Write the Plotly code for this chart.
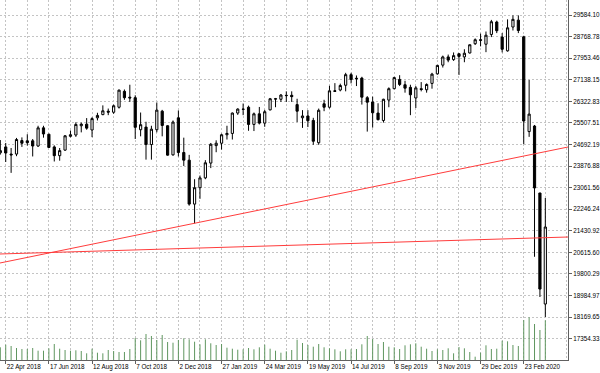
import pandas as pd
import plotly.graph_objects as go

# ---------------- data ----------------
weeks = pd.date_range("2018-04-15", periods=102, freq="7D")  # weekly bars (week start)

opens = [24380, 24600, 24330, 24330, 24840, 24830, 24830, 24635, 25320, 25080,
         24600, 24270, 24480, 25000, 25050, 25400, 25460, 25240, 25700, 25820,
         25950, 25910, 26100, 26700, 26480, 26460, 25250, 25350, 24690, 25250,
         25950, 25400, 24300, 25700, 24390, 24100, 22440, 23060, 23430, 23990,
         24650, 24740, 25060, 25110, 25880, 26030, 26100, 25450, 25850, 25500,
         26000, 26420, 26400, 26550, 26550, 26200, 25700, 25770, 25600, 24760,
         26230, 26100, 26720, 26750, 26930, 27330, 27170, 27200, 26460, 26300,
         25880, 25600, 26370, 26800, 27150, 26950, 26850, 26450, 26800, 26760,
         27000, 27360, 27690, 28000, 27900, 28120, 28000, 28150, 28500, 28650,
         28480, 28850, 29320, 28750, 28230, 29130, 29390, 28760, 25180, 25390,
         22860, 18665]
highs = [24860, 24750, 24560, 24940, 24960, 25080, 24900, 25400, 25400, 25100,
         24660, 24560, 25050, 25220, 25530, 25520, 25690, 25720, 25890, 26170,
         26050, 26200, 26770, 26770, 26950, 26550, 25900, 25550, 25400, 26280,
         26000, 25420, 25600, 25980, 24950, 24300, 23380, 23520, 24100, 24750,
         24850, 25100, 25400, 25900, 26060, 26240, 26160, 25900, 26110, 26000,
         26450, 26450, 26600, 26700, 26700, 26420, 25990, 25990, 25700, 26050,
         26380, 26910, 27010, 26990, 27400, 27400, 27300, 27250, 26520, 26500,
         26250, 26420, 26850, 27250, 27310, 27100, 26950, 26900, 27050, 27000,
         27400, 27700, 28050, 28090, 28170, 28140, 28290, 28470, 28700, 28880,
         28960, 29400, 29370, 28900, 29420, 29570, 29570, 28800, 27130, 25430,
         22860, 22670]
lows = [24310, 24030, 23620, 24250, 24600, 24650, 24240, 24600, 24950, 24560,
        24050, 24080, 24450, 24960, 24980, 25150, 25250, 24970, 25600, 25800,
        25800, 25850, 26050, 26380, 26300, 24900, 25000, 24120, 24120, 25150,
        25000, 24270, 24270, 24240, 23880, 22380, 21710, 22640, 23380, 23800,
        24400, 24500, 24880, 24880, 25810, 25800, 25210, 25200, 25450, 25360,
        25980, 26100, 26300, 26300, 26300, 25540, 25320, 25350, 24680, 24680,
        25950, 26050, 26750, 26700, 26700, 27000, 26900, 26200, 25180, 25330,
        25600, 25520, 26100, 26780, 26900, 26650, 25800, 26070, 26700, 26650,
        26800, 27330, 27600, 27800, 27850, 27320, 27800, 28130, 28450, 28400,
        28180, 28750, 28900, 28170, 28200, 29000, 28900, 24710, 24980, 20450,
        18930, 18175]
closes = [24460, 24370, 24300, 24880, 24740, 24760, 24635, 25320, 25090, 24580,
          24270, 24460, 25020, 25060, 25450, 25460, 25310, 25670, 25790, 25965,
          25915, 26155, 26745, 26460, 26450, 25340, 25440, 24690, 25270, 25990,
          25410, 24290, 25540, 24390, 24100, 22440, 23060, 23430, 24000, 24700,
          24740, 25060, 25110, 25880, 26030, 26020, 25450, 25850, 25500, 25930,
          26420, 26410, 26560, 26540, 26500, 25950, 25770, 25590, 24815, 25985,
          26100, 26720, 26700, 26920, 27330, 27150, 27190, 26480, 26290, 25890,
          25630, 26400, 26800, 27220, 26960, 26820, 26570, 26830, 26770, 26960,
          27350, 27680, 28000, 27880, 28050, 28020, 28140, 28460, 28650, 28630,
          28820, 29330, 28990, 28290, 29100, 29420, 29000, 25580, 25840, 23050,
          19230, 21575]
volumes = [31750, 38250, 35000, 30000, 27500, 27500, 30000, 23250, 23250, 29250,
           40000, 28250, 25000, 23250, 24250, 22500, 16750, 28250, 18250, 16750,
           25000, 22500, 20000, 20000, 27500, 55000, 49250, 65000, 60000, 50000,
           62500, 45000, 43250, 50000, 54250, 51750, 45750, 39250, 51750, 41750,
           37500, 40000, 30750, 28250, 25750, 26750, 30000, 26750, 31750, 38250,
           28250, 23250, 18250, 21750, 25000, 50750, 42500, 37500, 33250, 40000,
           31750, 29250, 26750, 21750, 26750, 26750, 27500, 39250, 60000, 52500,
           40000, 45000, 33250, 31750, 27500, 36750, 39250, 41750, 33250, 28250,
           22500, 26750, 25000, 29250, 16750, 32500, 29250, 20000, 8250, 18250,
           36750, 27500, 28250, 48250, 46750, 37500, 35000, 100000, 106750, 90000,
           75000, 99250]

price_ticks = [17354.33, 18169.65, 18984.97, 19800.29, 20615.60, 21430.92,
               22246.24, 23061.56, 23876.88, 24692.19, 25507.51, 26322.83,
               27138.15, 27953.46, 28768.78, 29584.10]
date_ticks = pd.date_range("2018-04-22", "2020-02-23", freq="56D")
date_tick_text = [f"{d.day} {d.strftime('%b %Y')}" for d in date_ticks]

# trend lines (values at the left and right edge of the view)
trend_dates = ["2018-04-14 14:00", "2020-04-20 10:00"]
rising_line = [20215, 24597]
flat_line = [20555, 21197]

x_range = ["2018-04-14 14:00", "2020-04-20 10:00"]
y_range = [16550, 30151]
vol_range = [0, 900000]

# ---------------- figure ----------------
GRID = "#c4c4c4"
AX = "#606060"
FONT = dict(family="Liberation Sans, Arial, sans-serif", size=6.3, color="#000000")
DAY_MS = 86400000

fig = go.Figure()

# volume histogram drawn as thin vertical strokes (MetaTrader style)
vol_x, vol_y = [], []
for w, v in zip(weeks, volumes):
    vol_x += [w, w, None]
    vol_y += [0, v, None]
fig.add_trace(go.Scatter(
    x=vol_x, y=vol_y, yaxis="y2", mode="lines",
    line=dict(color="#5f965f", width=1), hoverinfo="skip", showlegend=False))

fig.add_trace(go.Candlestick(
    x=weeks, open=opens, high=highs, low=lows, close=closes,
    increasing=dict(fillcolor="#ffffff", line=dict(color="#000000", width=1)),
    decreasing=dict(fillcolor="#000000", line=dict(color="#000000", width=1)),
    whiskerwidth=0, showlegend=False))

for vals in (rising_line, flat_line):
    fig.add_trace(go.Scatter(
        x=trend_dates, y=vals, mode="lines",
        line=dict(color="#ff3c3c", width=1), hoverinfo="skip", showlegend=False))

fig.update_layout(
    width=600, height=373, autosize=False,
    margin=dict(l=0, r=32, t=0, b=13, pad=0, autoexpand=False),
    paper_bgcolor="#ffffff", plot_bgcolor="#ffffff",
    font=FONT, boxgap=0.42,
    xaxis=dict(
        type="date", range=x_range, rangeslider=dict(visible=False),
        tickvals=list(date_ticks), ticktext=date_tick_text,
        ticklabelposition="outside right", tickangle=0,
        ticks="outside", ticklen=3, tickcolor=AX,
        showgrid=True, gridcolor=GRID, griddash="2px,2px", gridwidth=1,
        minor=dict(dtick=28 * DAY_MS, tick0="2018-04-22", showgrid=True,
                   gridcolor=GRID, griddash="2px,2px", ticks=""),
        showline=True, linecolor=AX, linewidth=1, zeroline=False,
        automargin=False, tickfont=FONT, fixedrange=True),
    yaxis=dict(
        side="right", range=y_range,
        tickvals=price_ticks, ticktext=[f"{v:.2f}" for v in price_ticks],
        ticks="outside", ticklen=3, tickcolor=AX,
        showgrid=True, gridcolor=GRID, griddash="2px,2px", gridwidth=1,
        showline=True, linecolor=AX, linewidth=1, zeroline=False,
        automargin=False, tickfont=FONT, fixedrange=True),
    yaxis2=dict(overlaying="y", range=vol_range, visible=False, fixedrange=True),
)

fig.write_html(
    "out.html",
    config={"displayModeBar": False},
    post_script="document.body.style.margin='0';document.body.style.overflow='hidden';",
)
